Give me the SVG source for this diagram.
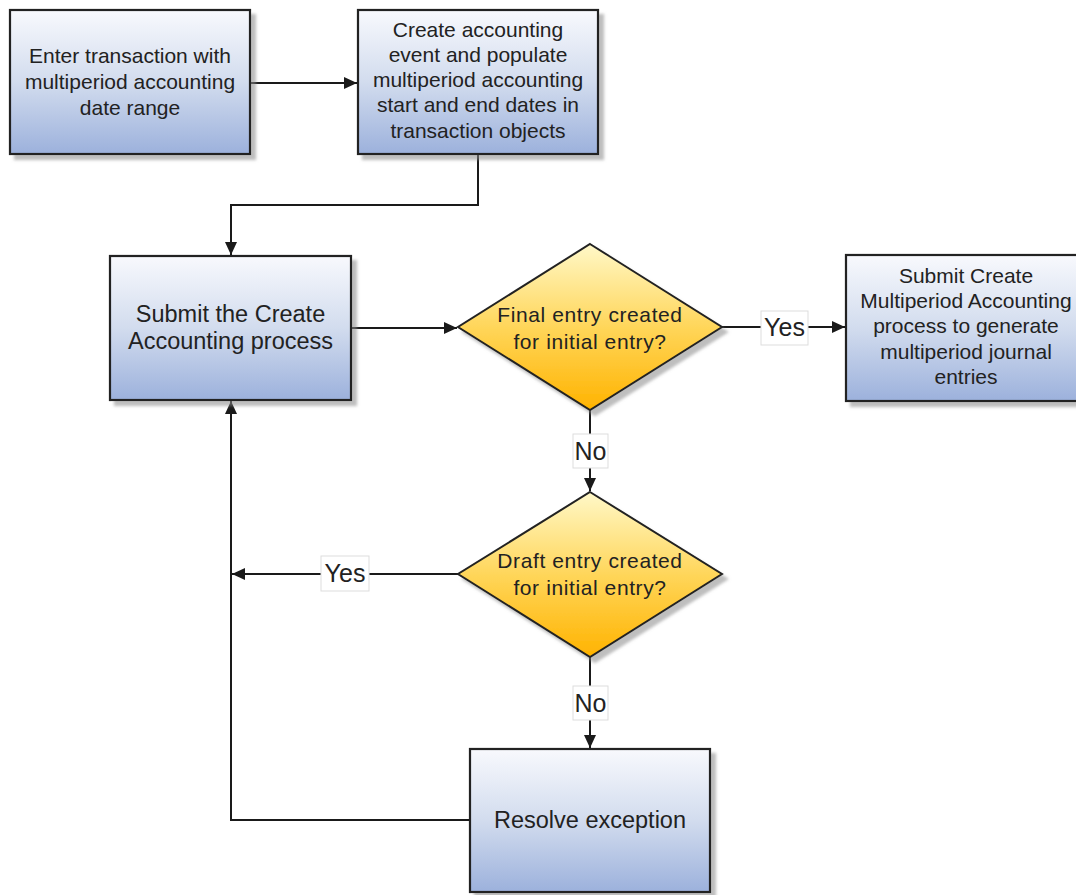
<svg xmlns="http://www.w3.org/2000/svg" width="1076" height="895" viewBox="0 0 1076 895">
<defs>
<linearGradient id="gBox" x1="0" y1="0" x2="0" y2="1">
<stop offset="0" stop-color="#f8f9fd"/>
<stop offset="0.5" stop-color="#d2dcee"/>
<stop offset="1" stop-color="#9cb1dc"/>
</linearGradient>
<linearGradient id="gDia" x1="0" y1="0" x2="0" y2="1">
<stop offset="0" stop-color="#fff8c8"/>
<stop offset="0.5" stop-color="#ffd65a"/>
<stop offset="1" stop-color="#ffb300"/>
</linearGradient>
<filter id="sh" x="-10%" y="-10%" width="130%" height="130%">
<feDropShadow dx="5" dy="5" stdDeviation="1.5" flood-color="#888" flood-opacity="0.55"/>
</filter>
<marker id="arr" markerUnits="userSpaceOnUse" markerWidth="14" markerHeight="12" refX="13" refY="6" orient="auto">
<path d="M0,0 L13,6 L0,12 Z" fill="#1a1a1a"/>
</marker>
</defs>
<style>
.box{fill:url(#gBox);stroke:#222;stroke-width:2.2;filter:url(#sh)}
.dia{fill:url(#gDia);stroke:#222;stroke-width:2;filter:url(#sh)}
.t{font-family:"Liberation Sans",Arial,sans-serif;font-size:21px;fill:#222;text-anchor:middle}
.td{font-family:"Liberation Sans",Arial,sans-serif;font-size:21px;letter-spacing:0.6px;fill:#222;text-anchor:middle}
.tl{font-family:"Liberation Sans",Arial,sans-serif;font-size:23.5px;fill:#222;text-anchor:middle}
.tb{font-family:"Liberation Sans",Arial,sans-serif;font-size:25px;fill:#222;text-anchor:middle}
.c{fill:none;stroke:#1a1a1a;stroke-width:2}
.lb{fill:#fff;stroke:#ddd;stroke-width:1}
</style>
<g id="connectors">
<path class="c" d="M250,83 H357" marker-end="url(#arr)"/>
<path class="c" d="M478,154 V205 H231 V255" marker-end="url(#arr)"/>
<path class="c" d="M351,328 H457" marker-end="url(#arr)"/>
<path class="c" d="M722,327 H845" marker-end="url(#arr)"/>
<path class="c" d="M590,410 V491" marker-end="url(#arr)"/>
<path class="c" d="M458,574 H232" marker-end="url(#arr)"/>
<path class="c" d="M590,657 V748" marker-end="url(#arr)"/>
<path class="c" d="M470,820 H231 V401" marker-end="url(#arr)"/>
<g id="lbl-yes1"><rect class="lb" x="761" y="311" width="47" height="34"/><text class="tb" x="784.5" y="336">Yes</text></g>
<g id="lbl-no1"><rect class="lb" x="573" y="434" width="35" height="34"/><text class="tb" x="590.5" y="460">No</text></g>
<g id="lbl-yes2"><rect class="lb" x="321" y="556" width="48" height="35"/><text class="tb" x="345" y="582">Yes</text></g>
<g id="lbl-no2"><rect class="lb" x="573" y="686" width="35" height="34"/><text class="tb" x="590.5" y="712">No</text></g>
</g>
<g id="n1">
<rect class="box" x="10" y="10" width="240" height="144"/>
<text class="t" x="130" y="63">Enter transaction with</text>
<text class="t" x="130" y="89">multiperiod accounting</text>
<text class="t" x="130" y="115">date range</text>
</g>
<g id="n2">
<rect class="box" x="358" y="10" width="240" height="144"/>
<text class="t" x="478" y="37">Create accounting</text>
<text class="t" x="478" y="62">event and populate</text>
<text class="t" x="478" y="87">multiperiod accounting</text>
<text class="t" x="478" y="112">start and end dates in</text>
<text class="t" x="478" y="138">transaction objects</text>
</g>
<g id="n3">
<rect class="box" x="110" y="256" width="241" height="144"/>
<text class="tl" x="230.5" y="322">Submit the Create</text>
<text class="tl" x="230.5" y="349">Accounting process</text>
</g>
<g id="n4">
<path class="dia" d="M590,244 L722,327 L590,410 L458,327 Z"/>
<text class="td" x="590" y="322">Final entry created</text>
<text class="td" x="590" y="349">for initial entry?</text>
</g>
<g id="n5">
<rect class="box" x="846" y="255" width="242" height="146"/>
<text class="t" x="966" y="283">Submit Create</text>
<text class="t" x="966" y="308">Multiperiod Accounting</text>
<text class="t" x="966" y="333">process to generate</text>
<text class="t" x="966" y="359">multiperiod journal</text>
<text class="t" x="966" y="384">entries</text>
</g>
<g id="n6">
<path class="dia" d="M590,492 L722,574 L590,657 L458,574 Z"/>
<text class="td" x="590" y="568">Draft entry created</text>
<text class="td" x="590" y="595">for initial entry?</text>
</g>
<g id="n7">
<rect class="box" x="470" y="749" width="240" height="143"/>
<text class="tl" x="590" y="828">Resolve exception</text>
</g>
</svg>
